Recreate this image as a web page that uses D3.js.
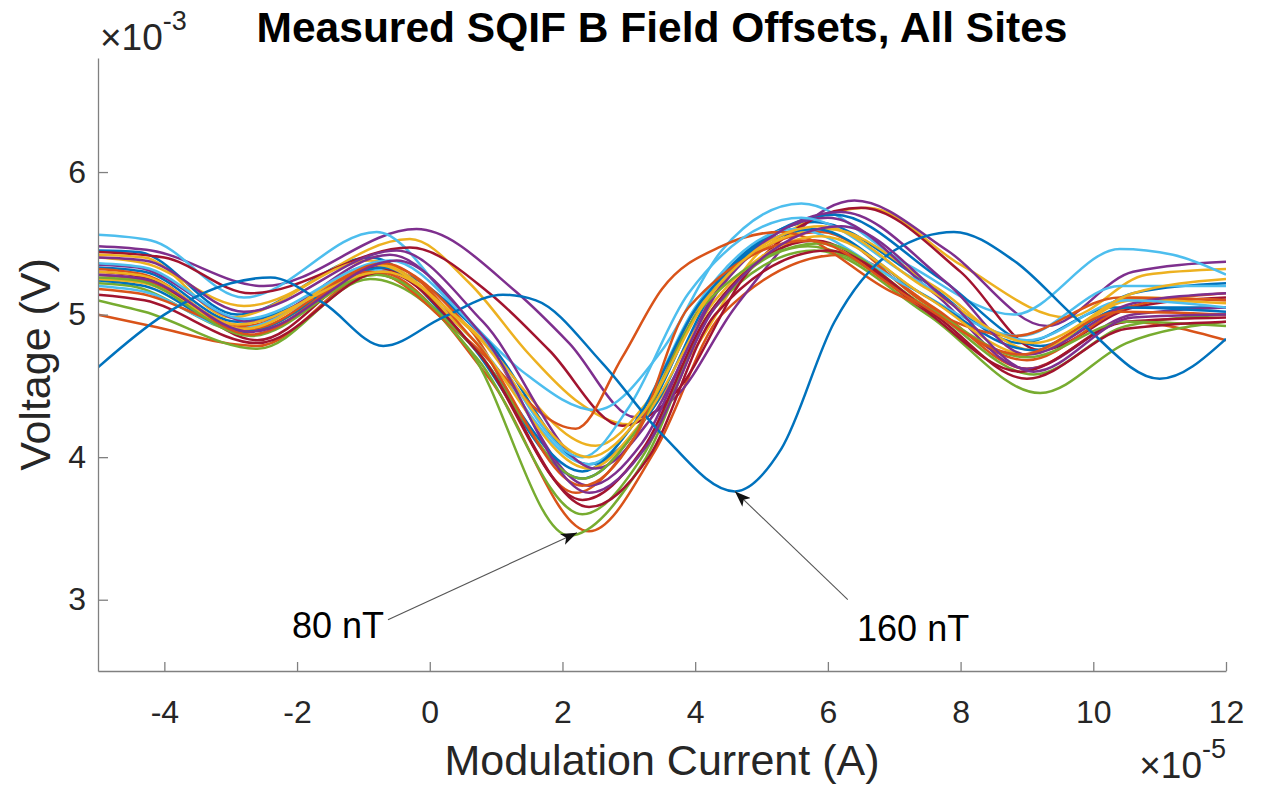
<!DOCTYPE html>
<html>
<head>
<meta charset="utf-8">
<script src="https://cdn.jsdelivr.net/npm/d3@7"></script>
<style>
  body { margin: 0; background: #fff; }
  svg { display: block; font-family: "Liberation Sans", Arial, Helvetica, sans-serif; }
  .axis path, .axis line { stroke: #808080; stroke-width: 1.3; }
  .axis text { fill: #262626; font-size: 32px; }
  .title { font-size: 42.5px; font-weight: bold; fill: #000; }
  .axisLabel { font-size: 43px; fill: #262626; }
  .exponent { font-size: 37px; fill: #262626; }
  .site { fill: none; stroke-width: 2.5; stroke-linejoin: round; }
  .note { font-size: 36px; fill: #000; }
  .arrow { stroke: #555; stroke-width: 1.1; }
</style>
</head>
<body>
<script>
const X_TICKS = [-4, -2, 0, 2, 4, 6, 8, 10, 12];
const Y_TICKS = [3, 4, 5, 6];
const COLORS = ['#0072BD', '#D95319', '#EDB120', '#7E2F8E', '#77AC30', '#4DBEEE', '#A2142F'];

// one curve per site: [modulation current (x1e-5 A), voltage (x1e-3 V)]
const sites = [
  [[-5,5.45],[-4.4,5.44],[-2.9,5.00],[-0.9,5.40],[0.5,4.85],[2.3,3.85],[3.2,4.25],[4.2,5.15],[5.8,5.65],[7.4,5.25],[8.9,4.80],[10.3,5.05],[12,5.05]],
  [[-5,5.00],[-4.2,4.92],[-2.6,4.78],[-0.8,5.30],[0.9,4.55],[2.4,3.48],[3.4,4.05],[4.4,5.00],[6.2,5.42],[7.6,5.05],[9.0,4.62],[10.5,4.95],[12,4.82]],
  [[-5,5.40],[-4.3,5.36],[-2.8,5.06],[-0.3,5.53],[0.6,5.22],[1.5,4.72],[2.2,4.40],[3.0,4.23],[3.9,4.70],[5.0,5.45],[6.6,5.75],[8.0,5.35],[9.6,4.98],[10.8,5.28],[12,5.32]],
  [[-5,5.48],[-4.2,5.45],[-2.5,5.20],[-0.2,5.60],[1.3,5.16],[2.1,4.80],[3.1,4.28],[3.7,4.42],[4.6,5.05],[6.4,5.80],[7.8,5.45],[9.3,4.92],[10.6,5.30],[12,5.37]],
  [[-5,5.10],[-4.3,5.02],[-2.6,4.76],[-0.9,5.25],[0.6,4.75],[2.1,3.45],[3.2,3.95],[4.3,5.05],[5.8,5.45],[7.5,5.00],[9.2,4.45],[10.5,4.80],[12,4.95]],
  [[-5,5.56],[-4.2,5.52],[-2.8,5.12],[-0.8,5.58],[0.4,5.05],[1.4,4.60],[2.5,4.33],[3.5,4.75],[4.4,5.45],[5.6,5.78],[7.2,5.35],[8.8,5.00],[10.4,5.46],[11.2,5.42],[12,5.28]],
  [[-5,5.44],[-4.0,5.40],[-2.7,5.15],[-0.3,5.47],[0.9,5.15],[1.8,4.75],[2.9,4.22],[3.7,4.45],[4.8,5.30],[6.5,5.75],[8.0,5.30],[9.2,4.75],[10.6,5.05],[12,5.12]],
  [[-5,5.33],[-4.3,5.30],[-2.9,4.95],[-0.6,5.30],[0.8,4.85],[2.4,3.95],[3.3,4.30],[4.4,5.25],[6.1,5.70],[7.7,5.25],[9.2,4.78],[10.6,5.15],[12,5.22]],
  [[-5,5.28],[-4.3,5.24],[-2.8,4.92],[-0.7,5.35],[0.6,4.90],[2.2,3.75],[3.1,4.15],[4.1,5.10],[5.9,5.58],[7.4,5.10],[9.0,4.68],[10.5,5.05],[12,5.15]],
  [[-5,5.42],[-4.3,5.40],[-3.0,4.98],[-0.9,5.38],[0.5,4.95],[2.5,4.08],[3.3,4.40],[4.3,5.20],[6.0,5.60],[7.6,5.20],[9.1,4.75],[10.6,5.12],[12,5.10]],
  [[-5,5.35],[-4.4,5.33],[-2.7,4.95],[-0.6,5.42],[0.7,4.90],[2.4,3.80],[3.2,4.10],[4.3,5.15],[6.0,5.68],[7.6,5.15],[9.0,4.62],[10.6,5.00],[12,5.05]],
  [[-5,5.22],[-4.5,5.20],[-2.8,4.88],[-0.8,5.28],[0.7,4.70],[2.3,3.60],[3.2,4.00],[4.2,5.00],[5.7,5.48],[7.5,5.05],[9.1,4.58],[10.5,4.92],[12,5.00]],
  [[-5,5.20],[-4.3,5.16],[-2.9,4.90],[-0.7,5.32],[0.6,4.85],[2.4,3.95],[3.1,4.25],[4.0,5.05],[5.5,5.60],[7.2,5.20],[8.9,4.85],[10.4,5.20],[12,5.20]],
  [[-5,5.30],[-4.3,5.26],[-2.6,4.82],[-0.8,5.33],[0.7,4.75],[2.3,3.70],[3.2,4.05],[4.2,5.00],[5.8,5.52],[7.4,5.05],[8.9,4.60],[10.5,4.95],[12,4.98]],
  [[-5,5.24],[-4.3,5.20],[-2.8,4.88],[-0.7,5.33],[0.6,4.80],[2.3,3.90],[3.1,4.25],[4.1,5.10],[5.8,5.60],[7.4,5.15],[9.1,4.75],[10.5,5.05],[12,5.02]],
  [[-5,5.18],[-4.4,5.15],[-2.7,4.90],[-0.9,5.30],[0.5,4.85],[2.2,4.20],[2.9,4.70],[3.5,5.18],[4.4,5.48],[5.3,5.58],[7.0,5.15],[8.8,4.85],[10.4,5.12],[12,5.10]],
  [[-5,5.25],[-4.3,5.22],[-2.8,4.90],[-0.8,5.35],[0.6,4.85],[2.4,3.92],[3.2,4.25],[4.3,5.10],[5.9,5.55],[7.5,5.12],[9.0,4.72],[10.6,5.10],[12,5.08]],
  [[-5,5.40],[-4.3,5.38],[-2.8,5.02],[-0.5,5.45],[0.8,4.95],[2.5,3.92],[3.3,4.25],[4.4,5.20],[6.2,5.72],[7.8,5.22],[9.0,4.72],[10.6,5.08],[12,5.15]],
  [[-5,5.26],[-4.4,5.24],[-2.7,4.85],[-0.8,5.28],[0.6,4.80],[2.3,3.85],[3.1,4.18],[4.1,5.05],[5.9,5.50],[7.5,5.05],[9.0,4.70],[10.5,4.95],[12,4.92]],
  [[-5,5.36],[-4.3,5.33],[-2.8,4.97],[-0.6,5.38],[0.6,4.95],[2.3,4.00],[3.0,4.35],[3.9,5.15],[5.6,5.68],[7.3,5.25],[9.0,4.82],[10.5,5.10],[12,5.05]],
  [[-5,5.14],[-4.3,5.10],[-2.6,4.80],[-0.7,5.30],[0.7,4.75],[2.4,3.65],[3.3,4.00],[4.3,5.00],[6.0,5.45],[7.6,5.00],[9.0,4.55],[10.5,4.90],[12,4.95]],
  [[-5,4.63],[-4,5.00],[-3,5.22],[-2.4,5.26],[-1.6,5.08],[-0.7,4.78],[0.2,4.98],[1.1,5.14],[1.6,5.10],[2.6,4.66],[3.5,4.16],[4.6,3.76],[5.3,4.06],[6.1,4.95],[7.0,5.45],[7.9,5.58],[8.8,5.38],[9.8,4.95],[11.0,4.55],[12,4.83]],
  [[-5,5.32],[-4.3,5.28],[-2.7,4.86],[-0.7,5.36],[0.7,4.80],[2.3,3.80],[3.1,4.15],[3.9,5.05],[5.7,5.52],[7.3,5.10],[8.9,4.72],[10.4,5.02],[12,5.00]],
  [[-5,5.30],[-4.3,5.27],[-2.9,4.93],[-0.7,5.30],[0.6,4.90],[2.4,4.00],[3.2,4.30],[4.2,5.12],[5.9,5.62],[7.5,5.18],[9.1,4.80],[10.6,5.15],[12,5.25]],
  [[-5,5.28],[-4.3,5.25],[-2.7,4.88],[-0.5,5.38],[0.8,4.85],[2.4,3.75],[3.3,4.10],[4.3,5.05],[6.2,5.62],[7.8,5.10],[9.1,4.60],[10.6,4.98],[12,5.00]]
];

const NOTE_LABELS = ['80 nT', '160 nT'];
const NOTE_TIPS = [[2.22, 3.47], [4.60, 3.76]];
const NOTE_TAILS = [[-0.63, 2.86], [6.30, 3.00]];
const NOTE_TEXT = [[-0.69, 2.73], [6.44, 2.71]];

const width = 1268;
const height = 785;
const plotBox = { left: 98, right: 1226, top: 58, bottom: 671 };

const xScale = d3.scaleLinear()
                 .domain([-5, 12])
                 .range([plotBox.left, plotBox.right]);
const yScale = d3.scaleLinear()
                 .domain([2.5, 6.8])
                 .range([plotBox.bottom, plotBox.top]);
const color = d3.scaleOrdinal().domain(d3.range(COLORS.length)).range(COLORS);

const svg = d3.select("body")
              .append("svg")
              .attr("width", width)
              .attr("height", height)
              .attr("viewBox", [0, 0, width, height]);

const defs = svg.append("defs");

defs.append("marker")
    .attr("id", "head")
    .attr("markerUnits", "userSpaceOnUse")
    .attr("markerWidth", 16)
    .attr("markerHeight", 12)
    .attr("refX", 16)
    .attr("refY", 6)
    .attr("orient", "auto")
    .append("path")
    .attr("d", "M0,0 L16,6 L0,12 L4,6 Z")
    .attr("fill", "#111");

defs.append("clipPath")
    .attr("id", "clip")
    .append("rect")
    .attr("x", plotBox.left)
    .attr("y", plotBox.top)
    .attr("width", plotBox.right - plotBox.left)
    .attr("height", plotBox.bottom - plotBox.top);

// Lines
const line = d3.line()
               .x(d => xScale(d[0]))
               .y(d => yScale(d[1]))
               .curve(d3.curveMonotoneX);

svg.append("g")
   .attr("clip-path", "url(#clip)")
   .selectAll("path")
   .data(sites)
   .enter()
   .append("path")
   .attr("class", "site")
   .attr("stroke", (_, i) => color(i % COLORS.length))
   .attr("d", line);

// Axes
const xAxis = d3.axisBottom(xScale)
                .tickValues(X_TICKS)
                .tickFormat(d => String(d))
                .tickSizeInner(-9)
                .tickSizeOuter(0)
                .tickPadding(29);
const yAxis = d3.axisLeft(yScale)
                .tickValues(Y_TICKS)
                .tickFormat(d => String(d))
                .tickSizeInner(-10)
                .tickSizeOuter(0)
                .tickPadding(12);

svg.append("g")
   .attr("class", "axis")
   .attr("transform", `translate(0,${plotBox.bottom})`)
   .call(xAxis);

svg.append("g")
   .attr("class", "axis")
   .attr("transform", `translate(${plotBox.left},0)`)
   .call(yAxis);

svg.selectAll(".axis").attr("font-size", null).attr("font-family", null);

// Exponent labels
const expX = svg.append("text")
                .attr("class", "exponent")
                .attr("x", plotBox.right)
                .attr("y", 778)
                .attr("text-anchor", "end");
expX.append("tspan").text("\u00d710");
expX.append("tspan").attr("dy", -20).attr("font-size", 27).text("-5");

const expY = svg.append("text")
                .attr("class", "exponent")
                .attr("x", plotBox.left + 2)
                .attr("y", 50);
expY.append("tspan").text("\u00d710");
expY.append("tspan").attr("dy", -20).attr("font-size", 27).text("-3");

// Titles
svg.append("text")
   .attr("class", "title")
   .attr("x", (plotBox.left + plotBox.right) / 2)
   .attr("y", 42)
   .attr("text-anchor", "middle")
   .text("Measured SQIF B Field Offsets, All Sites");

svg.append("text")
   .attr("class", "axisLabel")
   .attr("x", (plotBox.left + plotBox.right) / 2)
   .attr("y", 775)
   .attr("text-anchor", "middle")
   .text("Modulation Current (A)");

svg.append("text")
   .attr("class", "axisLabel")
   .attr("transform", "rotate(-90)")
   .attr("x", -(plotBox.top + plotBox.bottom) / 2)
   .attr("y", 50)
   .attr("text-anchor", "middle")
   .text("Voltage (V)");

// Annotations
const notes = svg.append("g");
notes.selectAll("line")
     .data(NOTE_LABELS)
     .enter()
     .append("line")
     .attr("class", "arrow")
     .attr("x1", (_, i) => xScale(NOTE_TAILS[i][0]))
     .attr("y1", (_, i) => yScale(NOTE_TAILS[i][1]))
     .attr("x2", (_, i) => xScale(NOTE_TIPS[i][0]))
     .attr("y2", (_, i) => yScale(NOTE_TIPS[i][1]))
     .attr("marker-end", "url(#head)");

notes.selectAll("text")
     .data(NOTE_LABELS)
     .enter()
     .append("text")
     .attr("class", "note")
     .attr("x", (_, i) => xScale(NOTE_TEXT[i][0]))
     .attr("y", (_, i) => yScale(NOTE_TEXT[i][1]))
     .attr("text-anchor", (_, i) => i === 0 ? "end" : "start")
     .text(d => d);
</script>
</body>
</html>
